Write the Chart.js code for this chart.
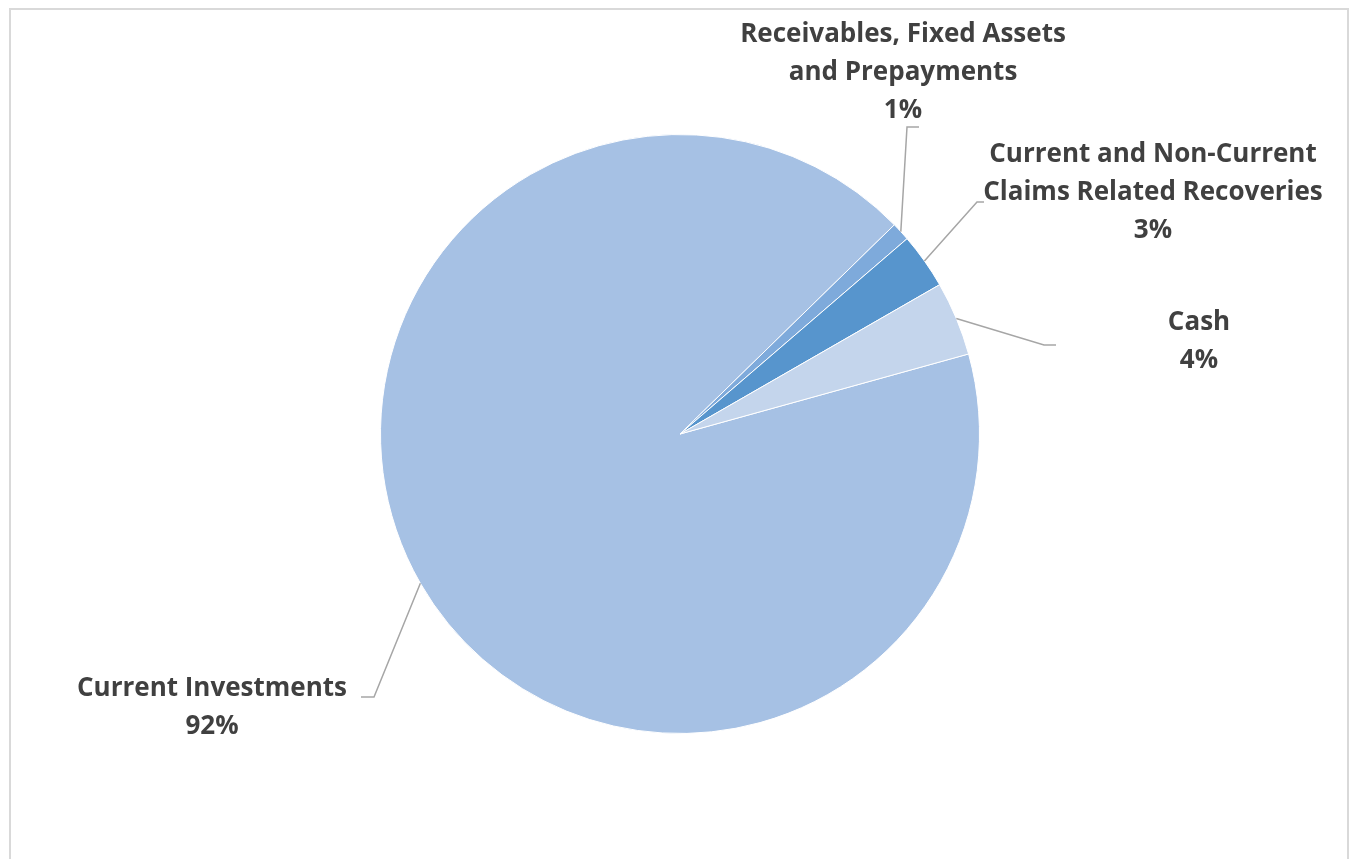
<!DOCTYPE html>
<html>
<head>
<meta charset="utf-8">
<script src="https://cdn.jsdelivr.net/npm/chart.js@4/dist/chart.umd.min.js"></script>
<style>
  html, body { margin: 0; padding: 0; background: #ffffff; overflow: hidden; }
  #wrap { position: relative; width: 1354px; height: 859px; }
</style>
</head>
<body>
<div id="wrap"><canvas id="pie"></canvas></div>
<script>
// Asset composition (percent of total)
const categories = [
  'Current Investments',
  'Receivables, Fixed Assets and Prepayments',
  'Current and Non-Current Claims Related Recoveries',
  'Cash'
];
const shares = [92, 1, 3, 4];
const sliceColors = ['#A6C1E4', '#7EAADB', '#5795CD', '#C4D5EC'];

// Label text lines, block centre, and leader-line bend/end for each slice
const labelLayout = [
  { lines: ['Current Investments'], cx: 212, cy: 708, bend: [374, 697], end: [361, 697] },
  { lines: ['Receivables, Fixed Assets', 'and Prepayments'], cx: 903, cy: 73, bend: [907, 127], end: [919, 127] },
  { lines: ['Current and Non-Current', 'Claims Related Recoveries'], cx: 1153, cy: 193, bend: [977, 202], end: [984, 202] },
  { lines: ['Cash'], cx: 1199, cy: 342, bend: [1044, 345], end: [1056, 345] }
];

const LINE_H = 38;
const FONT = 'bold 26px "Open Sans", "Noto Sans", sans-serif';

const frameAndLabels = {
  id: 'frameAndLabels',
  beforeDraw(chart) {
    const ctx = chart.ctx;
    ctx.save();
    ctx.strokeStyle = '#D9D9D9';
    ctx.lineWidth = 2;
    ctx.strokeRect(10, 9, 1338, 900);
    ctx.restore();
  },
  afterDatasetsDraw(chart) {
    const ctx = chart.ctx;
    const meta = chart.getDatasetMeta(0);
    const values = chart.data.datasets[0].data;
    const total = values.reduce((a, b) => a + b, 0);
    ctx.save();
    meta.data.forEach((arc, i) => {
      const lay = labelLayout[i];
      const p = arc.getProps(['x', 'y', 'startAngle', 'endAngle', 'outerRadius'], true);
      const mid = (p.startAngle + p.endAngle) / 2;
      const sx = p.x + Math.cos(mid) * p.outerRadius;
      const sy = p.y + Math.sin(mid) * p.outerRadius;
      // leader line
      ctx.strokeStyle = '#A6A6A6';
      ctx.lineWidth = 1.5;
      ctx.beginPath();
      ctx.moveTo(sx, sy);
      ctx.lineTo(lay.bend[0], lay.bend[1]);
      ctx.lineTo(lay.end[0], lay.end[1]);
      ctx.stroke();
      // label text: category lines followed by percentage
      const pct = Math.round(values[i] / total * 100) + '%';
      const lines = lay.lines.concat([pct]);
      ctx.fillStyle = '#404040';
      ctx.font = FONT;
      ctx.textAlign = 'center';
      ctx.textBaseline = 'middle';
      const top = lay.cy - (lines.length - 1) * LINE_H / 2;
      lines.forEach((t, k) => ctx.fillText(t, lay.cx, top + k * LINE_H));
    });
    ctx.restore();
  }
};

new Chart(document.getElementById('pie'), {
  type: 'pie',
  data: {
    labels: categories,
    datasets: [{
      data: shares,
      backgroundColor: sliceColors,
      borderColor: '#ffffff',
      borderWidth: 1
    }]
  },
  options: {
    responsive: true,
    maintainAspectRatio: false,
    animation: false,
    rotation: 74.5,
    layout: { padding: { left: 380, right: 374, top: 134, bottom: 125 } },
    plugins: {
      legend: { display: false },
      tooltip: { enabled: false }
    }
  },
  plugins: [frameAndLabels]
});
</script>
</body>
</html>
